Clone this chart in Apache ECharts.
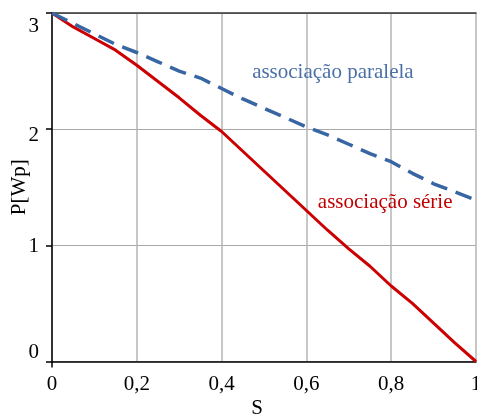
<!DOCTYPE html>
<html><head><meta charset="utf-8">
<script src="https://cdn.jsdelivr.net/npm/echarts@6/dist/echarts.min.js"></script>
<style>html,body{margin:0;padding:0;background:#fff}#c{width:477px;height:417px}</style>
</head><body><div id="c"></div>
<script>
const sValues = [0,0.05,0.1,0.15,0.2,0.25,0.3,0.35,0.4,0.45,0.5,0.55,0.6,0.65,0.7,0.75,0.8,0.85,0.9,0.95,1.0];
const serieValues = [3.0,2.88,2.78,2.68,2.55,2.41,2.27,2.12,1.98,1.81,1.64,1.47,1.30,1.13,0.97,0.82,0.65,0.50,0.33,0.16,0.0];
const paralelaValues = [3.0,2.91,2.82,2.73,2.66,2.58,2.50,2.44,2.35,2.26,2.18,2.10,2.02,1.95,1.87,1.79,1.72,1.62,1.53,1.46,1.39];
const xTickLabels = {0:'0',0.2:'0,2',0.4:'0,4',0.6:'0,6',0.8:'0,8',1:'1'};
const yTickLabels = ['0','1','2','3'];
const seriesNames = ['associação série','associação paralela'];

const FONT = '"Liberation Serif","Times New Roman",serif';
const blue = '#3766A3', red = '#CC0000';
const chart = echarts.init(document.getElementById('c'), null, {renderer:'canvas'});
const pairs = v => sValues.map((s,i)=>[s,v[i]]);
chart.setOption({
  animation:false,
  grid:{left:52,right:1,top:13,bottom:55.5,containLabel:false,outerBoundsMode:'none'},
  xAxis:[{
    type:'value',min:0,max:1,interval:0.2,
    name:'S',nameLocation:'middle',nameGap:36,nameMoveOverlap:false,
    nameTextStyle:{fontFamily:FONT,fontSize:21,color:'#000',padding:[0,14,0,0]},
    axisLine:{onZero:false,lineStyle:{color:'#000',width:1.5}},
    axisTick:{show:false},
    axisLabel:{fontFamily:FONT,fontSize:21,color:'#000',margin:12,
      formatter:v=>{const k=Math.round(v*10)/10;return xTickLabels[k]!==undefined?xTickLabels[k]:'';},
      showMaxLabel:true,showMinLabel:true},
    splitLine:{show:true,lineStyle:{color:'#b4b4b4',width:1.5}}
  },{
    type:'value',min:0,max:1,position:'top',
    axisLine:{show:true,onZero:false,lineStyle:{color:'#333',width:1.5}},
    axisTick:{show:false},axisLabel:{show:false},splitLine:{show:false}
  },{
    type:'value',min:0,max:1,position:'bottom',
    axisLine:{show:false,onZero:false},
    axisTick:{show:true,customValues:[0],length:6,lineStyle:{color:'#000',width:1.5}},
    axisLabel:{show:false},splitLine:{show:false}
  }],
  yAxis:{
    type:'value',min:0,max:3,interval:1,
    name:'P[Wp]',nameLocation:'middle',nameGap:22,nameMoveOverlap:false,
    nameTextStyle:{fontFamily:FONT,fontSize:21,color:'#000'},
    axisLine:{onZero:false,lineStyle:{color:'#000',width:1.5}},
    axisTick:{show:true,length:6,lineStyle:{color:'#000',width:1.5}},
    axisLabel:{fontFamily:FONT,fontSize:21,color:'#000',margin:13,
      formatter:v=>{const t=yTickLabels[Math.round(v)];return '{l'+Math.round(v)+'|'+t+'}';},
      rich:{
        l0:{fontFamily:FONT,fontSize:21,color:'#000',padding:[0,0,19,0]},
        l1:{fontFamily:FONT,fontSize:21,color:'#000',padding:[2,0,0,0]},
        l2:{fontFamily:FONT,fontSize:21,color:'#000',padding:[12,0,0,0]},
        l3:{fontFamily:FONT,fontSize:21,color:'#000',padding:[26,0,0,0]}
      }},
    splitLine:{show:true,lineStyle:{color:'#a8a8a8',width:1}}
  },
  series:[
    {name:seriesNames[0],type:'line',data:pairs(serieValues),showSymbol:false,symbol:'none',
     lineStyle:{color:red,width:3},z:3,
     markPoint:{symbol:'circle',symbolSize:0,
       data:[{coord:[0.627,1.37],value:seriesNames[0]}],
       label:{show:true,position:'right',distance:0,formatter:seriesNames[0],fontFamily:FONT,fontSize:21,color:'#C00000'}}},
    {name:seriesNames[1],type:'line',data:pairs(paralelaValues),showSymbol:false,symbol:'none',
     lineStyle:{color:blue,width:3.5,type:[17,9]},z:4,
     markPoint:{symbol:'circle',symbolSize:0,
       data:[{coord:[0.472,2.49],value:seriesNames[1]}],
       label:{show:true,position:'right',distance:0,formatter:seriesNames[1],fontFamily:FONT,fontSize:21,color:'#4A70A6'}}}
  ]
});
</script></body></html>
